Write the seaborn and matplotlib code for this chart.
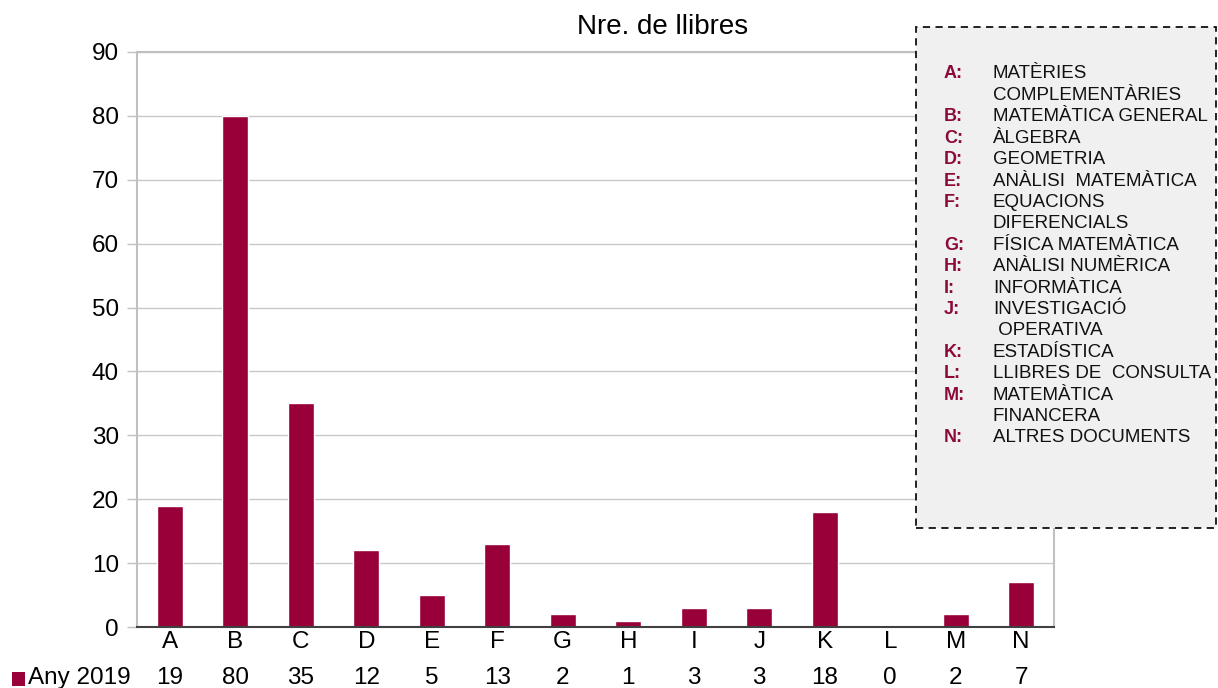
import matplotlib
matplotlib.use("Agg")
import matplotlib.pyplot as plt
import matplotlib.transforms as mtrans
import seaborn as sns
import pandas as pd
from matplotlib.patches import Rectangle

categories = ["A", "B", "C", "D", "E", "F", "G", "H", "I", "J", "K", "L", "M", "N"]
values_2019 = [19, 80, 35, 12, 5, 13, 2, 1, 3, 3, 18, 0, 2, 7]
series_name = "Any 2019"
title = "Nre. de llibres"
y_ticks = [0, 10, 20, 30, 40, 50, 60, 70, 80, 90]

legend_keys = ["A:", "", "B:", "C:", "D:", "E:", "F:", "", "G:", "H:", "I:", "J:", "", "K:", "L:", "M:", "", "N:"]
legend_texts = ["MATÈRIES", "COMPLEMENTÀRIES", "MATEMÀTICA GENERAL", "ÀLGEBRA", "GEOMETRIA",
                "ANÀLISI  MATEMÀTICA", "EQUACIONS", "DIFERENCIALS", "FÍSICA MATEMÀTICA",
                "ANÀLISI NUMÈRICA", "INFORMÀTICA", "INVESTIGACIÓ", " OPERATIVA", "ESTADÍSTICA",
                "LLIBRES DE  CONSULTA", "MATEMÀTICA", "FINANCERA", "ALTRES DOCUMENTS"]

sns.set_theme(style="white")
plt.rcParams["font.family"] = ["Liberation Sans", "DejaVu Sans"]

BAR = "#990039"
W, H = 1218, 688
fig = plt.figure(figsize=(W / 100, H / 100), dpi=100)
ax = fig.add_axes([137 / W, 1 - 627 / H, (1054 - 137) / W, (627 - 52) / H])

df = pd.DataFrame({"cat": categories, "val": values_2019})
sns.barplot(data=df, x="cat", y="val", color=BAR, width=0.4, saturation=1, ax=ax, zorder=3)

ax.set_ylim(0, 90)
ax.set_yticks(y_ticks)
ax.set_xlim(-0.5, len(categories) - 0.5)
ax.set_xlabel("")
ax.set_ylabel("")
ax.yaxis.grid(True, color="#c8c8c8", linewidth=1, zorder=0)
ax.tick_params(axis="y", labelsize=17.5, colors="#000000", length=7, width=1, color="#c0c0c0", pad=6, left=True)
ax.tick_params(axis="x", labelsize=17.5, colors="#000000", length=0, pad=3)
for s in ["left", "top", "right"]:
    ax.spines[s].set_color("#c0c0c0")
    ax.spines[s].set_linewidth(1.5)
ax.spines["bottom"].set_color("#404040")
ax.spines["bottom"].set_linewidth(1.5)
ax.spines["bottom"].set_zorder(4)

fig.text(663 / W, 1 - 27 / H, title, fontsize=20, ha="center", va="center", color="#000000")

# data table row
blend = mtrans.blended_transform_factory(ax.transData, fig.transFigure)
row_y = 1 - 678 / H
for i, v in enumerate(values_2019):
    ax.text(i, row_y, str(v), transform=blend, fontsize=17.5, ha="center", va="center", color="#000000")
fig.patches.append(Rectangle((12 / W, 1 - 686 / H), 13 / W, 14 / H, transform=fig.transFigure,
                             facecolor=BAR, edgecolor="none"))
fig.text(28 / W, row_y, series_name, fontsize=17.5, ha="left", va="center", color="#000000")

# legend box
box = Rectangle((916 / W, 1 - 528 / H), (1216 - 916) / W, (528 - 27) / H, transform=fig.transFigure,
                facecolor="#f0f0f0", edgecolor="#111111", linewidth=1.3, linestyle=(0, (4, 3)), zorder=5)
fig.patches.append(box)
y0, dy = 74, 21.4
for k, (key, txt) in enumerate(zip(legend_keys, legend_texts)):
    y = 1 - (y0 + k * dy) / H
    if key:
        fig.text(944 / W, y, key, fontsize=13, color="#8b0a3a", fontweight="bold", ha="left", va="center", zorder=6)
    fig.text(993 / W, y, txt, fontsize=13.5, color="#111111", ha="left", va="center", zorder=6)

fig.savefig("out.png", dpi=100)
